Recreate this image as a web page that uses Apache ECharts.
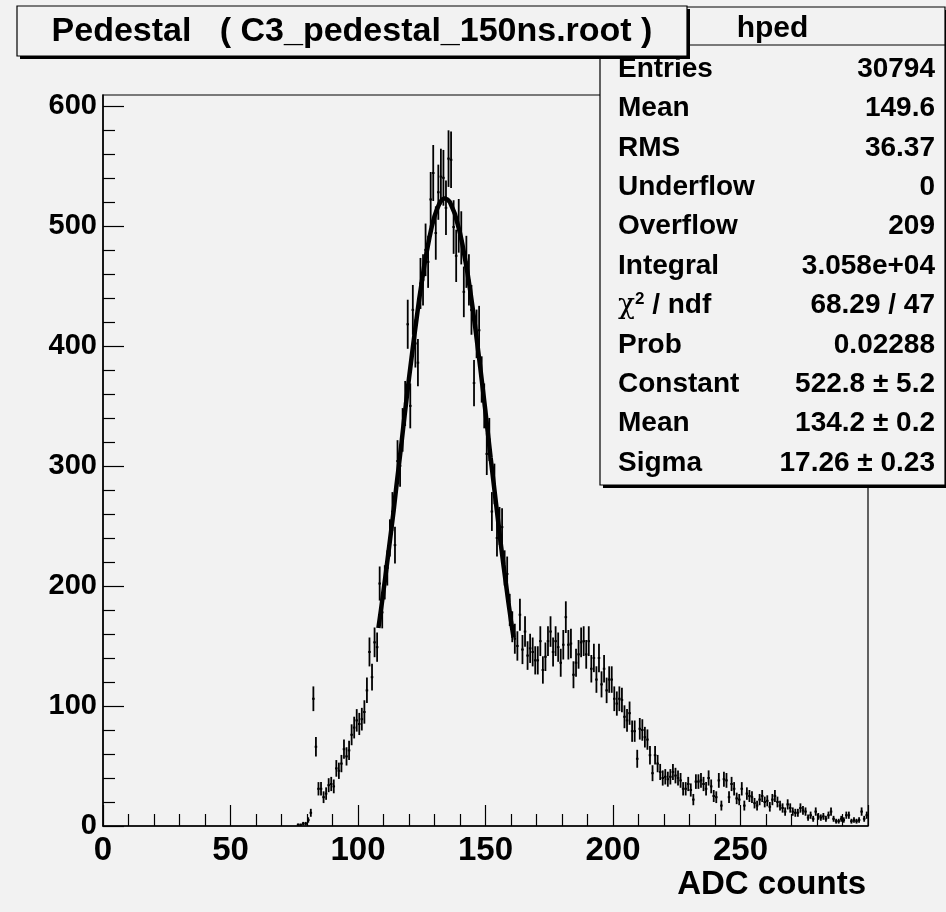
<!DOCTYPE html>
<html>
<head>
<meta charset="utf-8">
<script src="https://cdn.jsdelivr.net/npm/echarts@6/dist/echarts.min.js"></script>
<style>
html,body{margin:0;padding:0;background:#f2f2f2;}
#chart{width:946px;height:912px;}
</style>
</head>
<body>
<div id="chart"></div>
<script>
// Histogram: bins of width 1 ADC count, first non-empty bin starts at 76
const firstBin = 76;
const counts = [
  1,1,2,2,5,11,106,66,31,31,24,27,34,35,33,48,46,52,64,58,63,76,82,88,
  85,89,95,113,145,124,153,149,202,178,203,215,240,262,234,304,300,330,352,418,350,430,402,386,452,455,
  480,470,522,544,494,528,541,540,515,556,555,499,475,500,490,445,470,455,430,369,
  410,413,372,350,310,322,262,285,240,250,249,215,210,180,166,156,150,176,147,162,
  142,148,145,138,138,154,130,141,154,162,145,154,149,136,151,174,151,152,126,136,
  143,153,154,143,154,131,140,122,140,118,131,113,122,122,106,102,106,105,91,88,
  94,79,79,56,81,80,74,72,59,44,59,52,45,40,41,39,41,45,42,40,
  38,31,31,35,30,22,37,37,38,35,31,40,33,25,24,38,17,39,38,24,
  35,31,23,22,31,17,27,25,24,19,17,22,25,20,21,16,22,25,20,17,
  15,12,18,15,12,11,11,15,13,12,7,9,6,12,8,7,8,6,9,12,
  6,4,4,6,5,9,9,4,5,4,5,12,6,9
];
// Gaussian fit curve (x in ADC counts, y in entries)
const fitX = [108,109,110,111,112,113,114,115,116,117,118,119,120,121,122,123,124,125,126,127,
  128,129,130,131,132,133,134,135,136,137,138,139,140,141,142,143,144,145,146,147,
  148,149,150,151,152,153,154,155,156,157,158,159,160,161];
const fitY = [165,180,196,212,229,246,263,282,300,318,337,355,373,390,407,423,439,453,467,479,
  490,500,508,514,519,522,523,522,520,515,510,502,494,484,472,460,446,431,415,398,
  381,363,345,326,307,289,271,253,235,218,202,186,171,157];
const xTicks = [0,50,100,150,200,250];
const yTicks = [0,100,200,300,400,500,600];
const yMinorTicks = [20,40,60,80,120,140,160,180,220,240,260,280,320,340,360,380,420,440,460,480,520,540,560,580];
const titleText = 'Pedestal   ( C3_pedestal_150ns.root )';
const statsName = 'hped';
const statsLabels = ['Entries','Mean','RMS','Underflow','Overflow','Integral','CHI','Prob','Constant','Mean','Sigma'];
const statsValues = ['30794','149.6','36.37','0','209','3.058e+04','68.29 / 47','0.02288','522.8 \u00b1 5.2','134.2 \u00b1 0.2','17.26 \u00b1 0.23'];

const histData = counts.map((c, i) => [firstBin + i, c]).filter(d => d[1] > 0);
const fitData = fitX.map((x, i) => [x, fitY[i]]);

const FONT = '"Liberation Sans", Arial, Helvetica, sans-serif';
const chart = echarts.init(document.getElementById('chart'), null, {renderer: 'canvas'});

const graphics = [];
// stats box
const sbL = 600, sbT = 7, sbR = 945, sbB = 485;
graphics.push({type:'rect', shape:{x:sbL+3, y:sbT+3, width:sbR-sbL, height:sbB-sbT}, style:{fill:'#000'}, z:10});
graphics.push({type:'rect', shape:{x:sbL, y:sbT, width:sbR-sbL, height:sbB-sbT}, style:{fill:'#f2f2f2', stroke:'#000', lineWidth:1.2}, z:11});
graphics.push({type:'line', shape:{x1:sbL, y1:45, x2:sbR, y2:45}, style:{stroke:'#000', lineWidth:1.2}, z:12});
graphics.push({type:'text', x:(sbL+sbR)/2, y:29, style:{text:statsName, font:'bold 30px '+FONT, fill:'#000', align:'center', verticalAlign:'middle'}, z:12});
statsLabels.forEach((lab, i) => {
  const y = 69 + i * 39.4;
  if (lab === 'CHI') {
    graphics.push({type:'text', x:618, y:y, style:{
      text:'{c|\u03c7}{s|2}{n| / ndf}',
      verticalAlign:'middle', align:'left',
      rich:{c:{font:'28px "DejaVu Serif", serif', fill:'#000'}, s:{font:'bold 17px '+FONT, fill:'#000', verticalAlign:'top', padding:[0,0,12,0]}, n:{font:'bold 28px '+FONT, fill:'#000'}}
    }, z:12});
  } else {
    graphics.push({type:'text', x:618, y:y, style:{text:lab, font:'bold 28px '+FONT, fill:'#000', align:'left', verticalAlign:'middle'}, z:12});
  }
  graphics.push({type:'text', x:935, y:y, style:{text:statsValues[i], font:'bold 28px '+FONT, fill:'#000', align:'right', verticalAlign:'middle'}, z:12});
});
// title box
graphics.push({type:'rect', shape:{x:20, y:9, width:670, height:50}, style:{fill:'#000'}, z:20});
graphics.push({type:'rect', shape:{x:17, y:6, width:670, height:50}, style:{fill:'#f2f2f2', stroke:'#000', lineWidth:1.2}, z:21});
graphics.push({type:'text', x:352, y:32, style:{text:titleText, font:'bold 34px '+FONT, fill:'#000', align:'center', verticalAlign:'middle'}, z:22});
// x axis title
graphics.push({type:'text', x:866, y:885, style:{text:'ADC counts', font:'bold 33px '+FONT, fill:'#000', align:'right', verticalAlign:'middle'}, z:5});

chart.setOption({
  backgroundColor:'#f2f2f2',
  animation:false,
  grid:{left:103, top:95, width:765, height:731, show:true, borderColor:'#000', borderWidth:1.2, backgroundColor:'transparent'},
  xAxis:{
    type:'value', min:0, max:300, interval:50,
    axisLine:{show:true, onZero:false, lineStyle:{color:'#000', width:1.5}},
    axisTick:{show:true, inside:true, length:21, lineStyle:{color:'#000', width:1.2}},
    minorTick:{show:true, splitNumber:5, length:12, lineStyle:{color:'#000', width:1.2}},
    splitLine:{show:false}, minorSplitLine:{show:false},
    axisLabel:{show:true, showMaxLabel:false, margin:8, color:'#000', fontFamily:FONT, fontWeight:'bold', fontSize:33}
  },
  yAxis:[{
    type:'value', min:0, max:609,
    axisLine:{show:true, onZero:false, lineStyle:{color:'#000', width:1.5}},
    axisTick:{show:true, inside:true, length:21, customValues:yTicks, lineStyle:{color:'#000', width:1.2}},
    splitLine:{show:false},
    axisLabel:{show:true, customValues:yTicks, margin:6, color:'#000', fontFamily:FONT, fontWeight:'bold', fontSize:29}
  },{
    type:'value', min:0, max:609, position:'left',
    axisLine:{show:false},
    axisTick:{show:true, inside:true, length:12, customValues:yMinorTicks, lineStyle:{color:'#000', width:1.2}},
    splitLine:{show:false},
    axisLabel:{show:false}
  }],
  series:[{
    type:'custom',
    xAxisIndex:0, yAxisIndex:0,
    data:histData,
    clip:true,
    renderItem:function(params, api){
      const x0 = api.value(0), y = api.value(1);
      const err = Math.sqrt(y);
      const pL = api.coord([x0, y]);
      const pR = api.coord([x0 + 1, y]);
      const pT = api.coord([x0 + 0.5, y + err]);
      const pB = api.coord([x0 + 0.5, Math.max(0, y - err)]);
      return {type:'group', children:[
        {type:'line', shape:{x1:pL[0], y1:pL[1], x2:pR[0], y2:pR[1]}, style:{stroke:'#000', lineWidth:2}},
        {type:'line', shape:{x1:pT[0], y1:pT[1], x2:pB[0], y2:pB[1]}, style:{stroke:'#000', lineWidth:1.8}}
      ]};
    },
    z:3
  },{
    type:'line',
    xAxisIndex:0, yAxisIndex:0,
    data:fitData,
    showSymbol:false, symbol:'none', smooth:false,
    lineStyle:{color:'#000', width:4.5},
    z:4
  }],
  graphic:graphics
});
</script>
</body>
</html>
